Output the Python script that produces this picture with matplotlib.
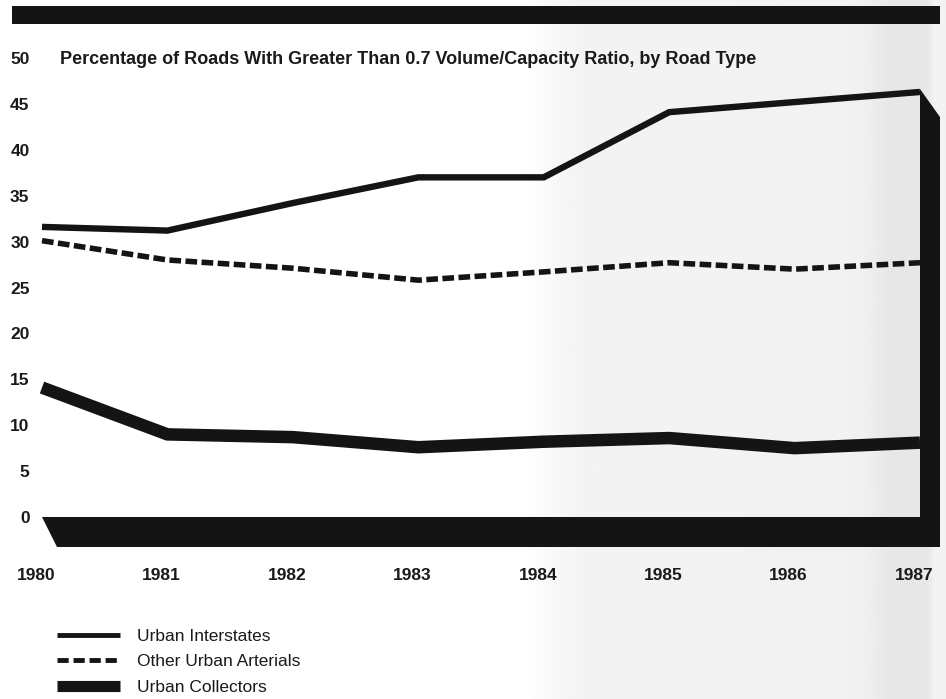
import numpy as np
import matplotlib
matplotlib.use("Agg")
import matplotlib.pyplot as plt
from matplotlib.patches import Polygon, Rectangle
from matplotlib.lines import Line2D
import matplotlib.transforms as mtransforms

# ---- data ----
years = [1980, 1981, 1982, 1983, 1984, 1985, 1986, 1987]
urban_interstates = [31.6, 31.2, 34.2, 37.0, 37.0, 44.1, 45.2, 46.3]
other_urban_arterials = [30.1, 28.0, 27.1, 25.8, 26.7, 27.7, 27.0, 27.7]
urban_collectors = [14.1, 9.0, 8.7, 7.6, 8.2, 8.6, 7.5, 8.1]
y_ticks = [0, 5, 10, 15, 20, 25, 30, 35, 40, 45, 50]
series_names = ["Urban Interstates", "Other Urban Arterials", "Urban Collectors"]
title = "Percentage of Roads With Greater Than 0.7 Volume/Capacity Ratio, by Road Type"

plt.rcParams['font.family'] = ['Liberation Sans', 'DejaVu Sans']

W, H = 946, 699
fig = plt.figure(figsize=(W / 100, H / 100), dpi=100)
fig.patch.set_facecolor('white')

def fx(x):
    return x / W

def fy(y):
    return 1 - y / H

# background scan tone (light grey toward the right)
bg = fig.add_axes([0, 0, 1, 1], zorder=0)
bg.set_axis_off()
xs = np.linspace(0, W, 900)
tone = np.interp(xs, [0, 520, 580, 860, 890, 926, 934, 946],
                 [1.0, 1.0, 0.955, 0.945, 0.905, 0.905, 0.95, 0.95])
img = np.tile(tone, (10, 1))
bg.imshow(img, cmap='gray', vmin=0, vmax=1, aspect='auto', extent=[0, 1, 0, 1])
bg.set_xlim(0, 1)
bg.set_ylim(0, 1)

# plot axes: 1980 -> x=42px, 1987 -> x=920px ; 0 -> y=517px, 50 -> y=58px
x0p, x1p, y0p, y1p = 42, 920, 517, 58
ax = fig.add_axes([fx(x0p), fy(y0p), (x1p - x0p) / W, (y0p - y1p) / H], zorder=2)
ax.patch.set_alpha(0)
ax.set_xlim(1980, 1987)
ax.set_ylim(0, 50)
for s in ax.spines.values():
    s.set_visible(False)

ax.plot(years, urban_interstates, color='#141414', lw=4.6, solid_capstyle='butt',
        solid_joinstyle='miter', clip_on=False)
ax.plot(years, other_urban_arterials, color='#141414', lw=4.0, linestyle=(0, (2.1, 0.8)),
        dash_capstyle='butt', clip_on=False)
ax.plot(years, urban_collectors, color='#141414', lw=9.0, solid_capstyle='butt',
        solid_joinstyle='miter', clip_on=False)

ax.set_yticks(y_ticks)
ax.set_yticklabels([str(v) for v in y_ticks], fontsize=12.5, fontweight='bold', color='#1a1a1a')
ax.set_xticks(years)
ax.set_xticklabels([str(y) for y in years], fontsize=12.5, fontweight='bold', color='#1a1a1a')
ax.tick_params(axis='y', length=0, pad=9)
ax.tick_params(axis='x', length=0, pad=37)
offset = mtransforms.ScaledTranslation(-6 / 100, 0, fig.dpi_scale_trans)
for lab in ax.get_xticklabels():
    lab.set_transform(lab.get_transform() + offset)

# 3D-style frame: base band and right wall
frame = fig.add_axes([0, 0, 1, 1], zorder=1)
frame.set_axis_off()
frame.set_xlim(0, W)
frame.set_ylim(H, 0)
frame.add_patch(Polygon([(42, 517), (920, 517), (920, 89), (940, 117), (940, 547), (57, 547)],
                        closed=True, facecolor='#141414', edgecolor='none'))
frame.add_patch(Rectangle((12, 6), 928, 18, facecolor='#141414', edgecolor='none'))

# title
fig.text(fx(60), fy(59), title, fontsize=13, fontweight='bold', color='#1a1a1a',
         ha='left', va='center', zorder=3)

# legend
handles = [
    Line2D([], [], color='#141414', lw=3.5, solid_capstyle='butt'),
    Line2D([], [], color='#141414', lw=3.5, linestyle=(0, (2.3, 1.0)), dash_capstyle='butt'),
    Line2D([], [], color='#141414', lw=8.0, solid_capstyle='butt'),
]
leg = fig.legend(handles, series_names, loc='upper left', bbox_to_anchor=(fx(57), fy(629)),
                 frameon=False, fontsize=12.5, handlelength=3.6, handletextpad=1.0,
                 labelspacing=0.58, borderpad=0, borderaxespad=0)
for t in leg.get_texts():
    t.set_color('#1a1a1a')

fig.savefig("out.png", dpi=100, facecolor=fig.get_facecolor())
